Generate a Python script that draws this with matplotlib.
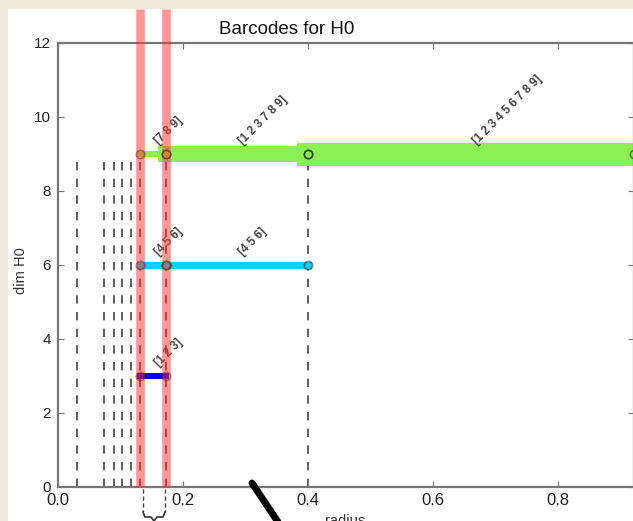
import matplotlib
matplotlib.use('Agg')
import matplotlib.pyplot as plt
import matplotlib.patches as patches
from matplotlib.lines import Line2D

# barcode segments (birth, death) for each dimension level
bar_y = [9, 9, 9, 6, 6, 3]
bar_start = [0.131, 0.173, 0.40, 0.131, 0.173, 0.131]
bar_end = [0.173, 0.40, 0.922, 0.173, 0.40, 0.173]
bar_labels = ['[7 8 9]', '[1 2 3 7 8 9]', '[1 2 3 4 5 6 7 8 9]',
              '[4 5 6]', '[4 5 6]', '[1 2 3]']
bar_colors = ['#8cf055', '#8cf055', '#8cf055', '#00d2f2', '#00d2f2', '#0000ee']
bar_widths = [4.3, 11.5, 16.5, 5.0, 5.0, 4.3]

# merge radii (dashed verticals) and highlighted radii
merge_x = [0.031, 0.074, 0.089, 0.103, 0.117, 0.131, 0.173, 0.40]
merge_top = 9
highlight_x = [0.131, 0.173]

W, H = 633, 521
fig = plt.figure(figsize=(W / 100, H / 100), dpi=100, facecolor='#f2ebdf')
plt.rcParams['font.family'] = ['Liberation Sans', 'DejaVu Sans']

# white panel of the screenshot
fig.patches.append(patches.Rectangle((8 / W, 0), 1, (H - 9) / H,
                                     transform=fig.transFigure,
                                     facecolor='white', edgecolor='none', zorder=-10))

ax = fig.add_axes([58 / W, (H - 487) / H, (634 - 58) / W, (487 - 43) / H])
ax.set_xlim(0, 0.922)
ax.set_ylim(0, 12)

for x in merge_x:
    ax.plot([x, x], [0, merge_top], color='#444444', lw=1.2,
            dashes=(5, 5), zorder=1)

for y, x0, x1, c, w, lab in zip(bar_y, bar_start, bar_end, bar_colors,
                                bar_widths, bar_labels):
    ax.plot([x0, x1], [y, y], color=c, lw=w, solid_capstyle='projecting',
            zorder=2, clip_on=False)
    ax.plot([x0, x1], [y, y], 'o', ms=6, mfc='none', mec=(0, 0, 0, 0.45),
            mew=1.2, zorder=3, clip_on=False)
    ax.text((x0 + x1) / 2, y + 0.2, lab, rotation=45, ha='left',
            va='bottom', fontsize=8.5, color='#444444', fontweight='bold')

for x in highlight_x:
    ax.axvline(x, ymin=0, ymax=(487 - 9) / 444, color='#ff3030', alpha=0.5,
               lw=6.2, zorder=4, clip_on=False, solid_capstyle='butt')

ax.set_xticks([0.0, 0.2, 0.4, 0.6, 0.8])
ax.set_xticklabels(['0.0', '0.2', '0.4', '0.6', '0.8'])
ax.set_yticks(range(0, 13, 2))
ax.tick_params(direction='in', length=4, color='#777777', top=True,
               right=True, labelcolor='#222222')
ax.tick_params(axis='x', labelsize=12, pad=4)
ax.tick_params(axis='y', labelsize=11, pad=5)
for s in ax.spines.values():
    s.set_color('#777777')
    s.set_linewidth(1.6)

fig.text(287 / W, 1 - 30 / H, 'Barcodes for H0', ha='center', va='center',
         fontsize=13.5, color='#111111')
fig.text(21 / W, 1 - 271 / H, 'dim H0', rotation=90, ha='center',
         va='center', fontsize=10.5, color='#333333')
fig.text(345 / W, 1 - 514 / H, 'radius', ha='center', va='top',
         fontsize=10.5, color='#333333')

# hand-drawn annotations on the screenshot
def px(xs, ys):
    return [x / W for x in xs], [1 - y / H for y in ys]

for xx in [143, 165]:
    lx, ly = px([xx, xx], [489, 512])
    fig.add_artist(Line2D(lx, ly, color='#444444', lw=1, dashes=(3, 2)))
lx, ly = px([143, 145, 151, 154, 157, 163, 165], [512, 517, 517, 521, 517, 517, 512])
fig.add_artist(Line2D(lx, ly, color='#333333', lw=1.2))
lx, ly = px([252, 280], [483, 525])
fig.add_artist(Line2D(lx, ly, color='black', lw=5, solid_capstyle='round'))

fig.savefig('out.png', dpi=100, facecolor=fig.get_facecolor())
